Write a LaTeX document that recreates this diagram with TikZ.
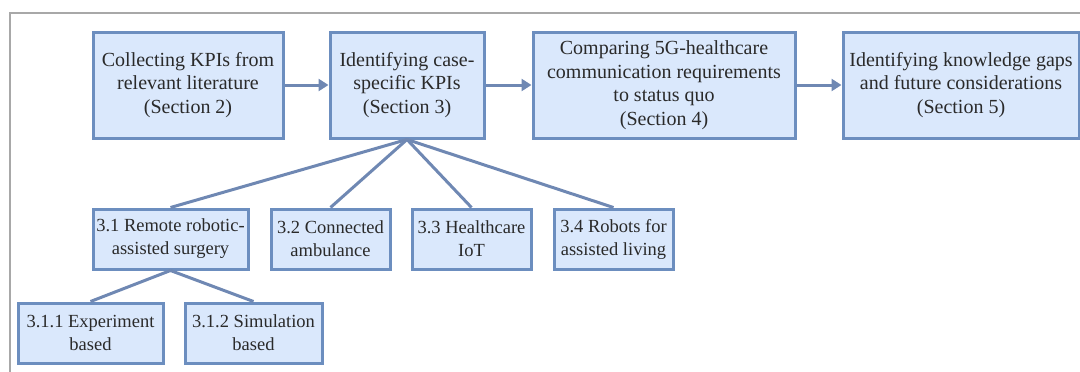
\documentclass[tikz,border=0pt]{standalone}
\usepackage{fontspec}
\setmainfont{Liberation Serif}
\usetikzlibrary{arrows.meta}
\definecolor{boxfill}{HTML}{DAE8FC}
\definecolor{boxline}{HTML}{6C8EBF}
\definecolor{linkline}{HTML}{6F88B3}
\definecolor{framegray}{HTML}{A8A8A8}
\definecolor{textgray}{HTML}{2A2A2A}
\tikzset{
  stagebox/.style={draw=boxline, fill=boxfill, line width=3pt, text=textgray,
    align=center, inner sep=0pt, font=\fontsize{20}{23.5}\selectfont},
  casebox/.style={draw=boxline, fill=boxfill, line width=3pt, text=textgray,
    align=center, inner sep=0pt, font=\fontsize{18.5}{23}\selectfont},
  flow/.style={draw=linkline, line width=3pt, -{Triangle[length=10pt,width=12pt]}},
  branch/.style={draw=linkline, line width=3pt},
}
\begin{document}
\begin{tikzpicture}[x=1pt,y=-1pt]
\useasboundingbox (0,0) rectangle (1080,372);
% outer frame, open at the right and bottom
\draw[framegray, line width=2.2pt] (10,372) -- (10,13) -- (1080,13);

% main stages
\node[stagebox, minimum width=190pt, minimum height=106pt] (s2) at (188,85)
  {Collecting KPIs from\\relevant literature\\(Section 2)};
\node[stagebox, minimum width=154pt, minimum height=106pt] (s3) at (407,85)
  {Identifying case-\\specific KPIs\\(Section 3)};
\node[stagebox, minimum width=262pt, minimum height=106pt] (s4) at (664,85)
  {Comparing 5G-healthcare\\communication requirements\\to status quo\\(Section 4)};
\node[stagebox, minimum width=236pt, minimum height=106pt] (s5) at (961,85)
  {Identifying knowledge gaps\\and future considerations\\(Section 5)};

% use cases of section 3
\node[casebox, minimum width=155pt, minimum height=60pt] (c1) at (170.5,239)
  {3.1 Remote robotic-\\assisted surgery};
\node[casebox, minimum width=119pt, minimum height=60pt] (c2) at (330.5,239)
  {3.2 Connected\\ambulance};
\node[casebox, minimum width=119pt, minimum height=60pt] (c3) at (471.5,239)
  {3.3 Healthcare\\IoT};
\node[casebox, minimum width=119pt, minimum height=60pt] (c4) at (613.5,239)
  {3.4 Robots for\\assisted living};

% studies of section 3.1
\node[casebox, minimum width=145pt, minimum height=60pt] (e1) at (90.5,333)
  {3.1.1 Experiment\\based};
\node[casebox, minimum width=137pt, minimum height=60pt] (e2) at (253.5,333)
  {3.1.2 Simulation\\based};

% workflow
\draw[flow] (s2) -- (s3);
\draw[flow] (s3) -- (s4);
\draw[flow] (s4) -- (s5);

% branches
\foreach \c in {c1,c2,c3,c4} \draw[branch] (s3.south) -- (\c.north);
\foreach \e in {e1,e2} \draw[branch] (c1.south) -- (\e.north);
\end{tikzpicture}
\end{document}
